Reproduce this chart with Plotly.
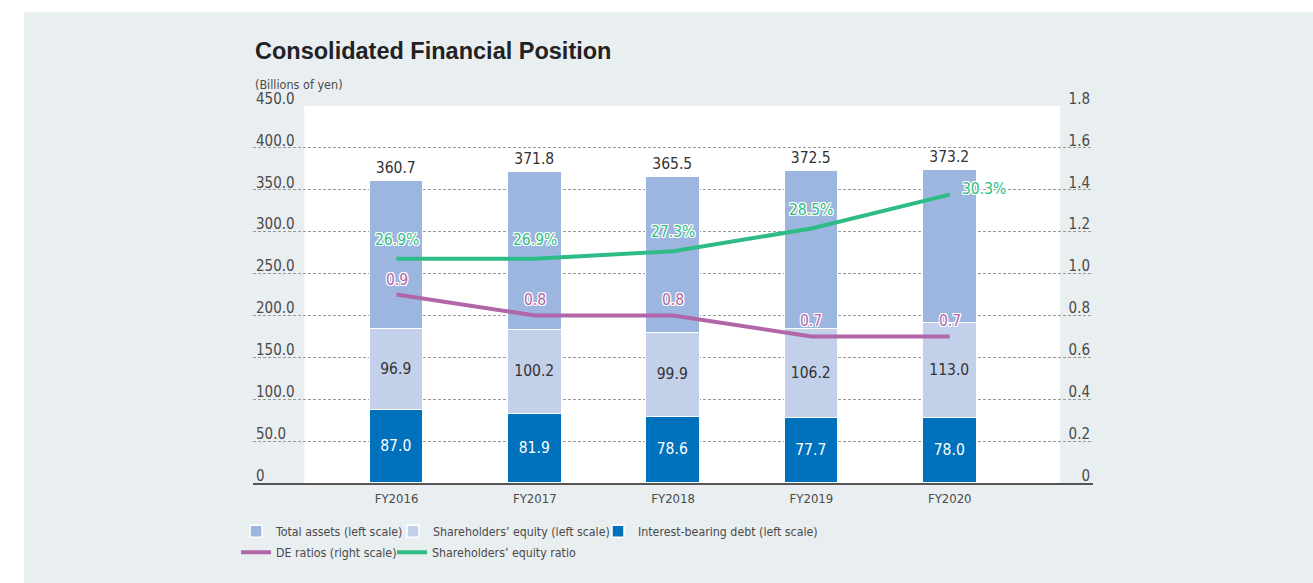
import plotly.graph_objects as go

# ---------------- data ----------------
years = ["FY2016", "FY2017", "FY2018", "FY2019", "FY2020"]
total_assets = [360.7, 371.8, 365.5, 372.5, 373.2]
shareholders_equity = [96.9, 100.2, 99.9, 106.2, 113.0]
interest_bearing_debt = [87.0, 81.9, 78.6, 77.7, 78.0]
de_ratio = [0.9, 0.8, 0.8, 0.7, 0.7]
equity_ratio = [26.9, 26.9, 27.3, 28.5, 30.3]

left_ticks = [0, 50, 100, 150, 200, 250, 300, 350, 400, 450]
left_ticktext = ["0", "50.0", "100.0", "150.0", "200.0", "250.0", "300.0", "350.0", "400.0", "450.0"]
right_ticks = [0, 0.2, 0.4, 0.6, 0.8, 1.0, 1.2, 1.4, 1.6, 1.8]
right_ticktext = ["0", "0.2", "0.4", "0.6", "0.8", "1.0", "1.2", "1.4", "1.6", "1.8"]

# ---------------- style ----------------
NARROW = "DejaVu Sans Condensed, Liberation Sans, Arial, sans-serif"
BOLD = "Liberation Sans, Arial, sans-serif"
BG = "#e9eef1"
C_TOTAL = "#9db6df"
C_EQUITY = "#c2d0ea"
C_DEBT = "#0071bc"
C_DE = "#b066a8"
C_RATIO = "#2ebc86"
TXT = "#4a4a4a"
HALO = ("1px 1px 0 white, -1px -1px 0 white, 1px -1px 0 white, -1px 1px 0 white, "
        "0 1px 0 white, 0 -1px 0 white, 1px 0 0 white, -1px 0 0 white")

remainder = [t - e - d for t, e, d in zip(total_assets, shareholders_equity, interest_bearing_debt)]

fig = go.Figure()

fig.add_trace(go.Bar(
    x=years, y=interest_bearing_debt, name="Interest-bearing debt (left scale)",
    marker=dict(color=C_DEBT, line=dict(color="white", width=1.5)),
    width=0.3876,
    text=[f"{v:.1f}" for v in interest_bearing_debt], textposition="inside",
    insidetextanchor="middle", constraintext="none",
    textfont=dict(family=NARROW, size=15.5, color="white"),
    legend="legend3",
))
fig.add_trace(go.Bar(
    x=years, y=shareholders_equity, name="Shareholders\u2019 equity (left scale)",
    marker=dict(color=C_EQUITY, line=dict(color="white", width=1.5)),
    width=0.3876,
    text=[f"{v:.1f}" for v in shareholders_equity], textposition="inside",
    insidetextanchor="middle", constraintext="none",
    textfont=dict(family=NARROW, size=15.5, color="#333333"),
    legend="legend2",
))
fig.add_trace(go.Bar(
    x=years, y=remainder, name="Total assets (left scale)",
    marker=dict(color=C_TOTAL, line=dict(color="white", width=1.5)),
    width=0.3876,
    text=[f"{v:.1f}" for v in total_assets], textposition="outside",
    constraintext="none", cliponaxis=False,
    textfont=dict(family=NARROW, size=15.5, color="#333333"),
    legend="legend",
))
fig.add_trace(go.Scatter(
    x=years, y=de_ratio, yaxis="y2", mode="lines", name="DE ratios (right scale)",
    line=dict(color=C_DE, width=4), legend="legend4",
))
fig.add_trace(go.Scatter(
    x=years, y=equity_ratio, yaxis="y3", mode="lines", name="Shareholders\u2019 equity ratio",
    line=dict(color=C_RATIO, width=4), legend="legend5",
))

annotations = []
for i, (yr, v) in enumerate(zip(years, equity_ratio)):
    last = i == len(years) - 1
    annotations.append(dict(
        x=yr, y=v, xref="x", yref="y3", text=f"{v:.1f}%", showarrow=False,
        xanchor="left" if last else "center", yanchor="middle",
        xshift=10 if last else 0, yshift=6 if last else 19,
        font=dict(family=NARROW, size=15.5, color=C_RATIO, shadow=HALO),
    ))
for i, (yr, v) in enumerate(zip(years, de_ratio)):
    annotations.append(dict(
        x=yr, y=v, xref="x", yref="y2", text=f"{v:.1f}", showarrow=False,
        xanchor="center", yanchor="middle", yshift=15,
        font=dict(family=NARROW, size=15.5, color=C_DE, shadow=HALO),
    ))
annotations.append(dict(
    x=0, y=1.1465, xref="paper", yref="paper", text="<b>Consolidated Financial Position</b>",
    showarrow=False, xanchor="left", yanchor="middle",
    font=dict(family=BOLD, size=23.5, color="#222222"),
))
annotations.append(dict(
    x=0, y=1.0583, xref="paper", yref="paper", text="(Billions of yen)",
    showarrow=False, xanchor="left", yanchor="middle",
    font=dict(family=NARROW, size=12.5, color=TXT),
))

shapes = [
    dict(type="rect", xref="paper", yref="paper", x0=-0.2726, x1=1.3, y0=-0.3, y1=1.249,
         fillcolor=BG, line=dict(width=0), layer="below"),
    dict(type="rect", xref="x", yref="paper", x0=-0.6667, x1=4.797, y0=0, y1=1,
         fillcolor="white", line=dict(width=0), layer="below"),
]

legend_common = dict(
    orientation="h", yanchor="middle", xanchor="left", bgcolor="rgba(0,0,0,0)",
    font=dict(family=NARROW, size=12.3, color=TXT), borderwidth=0,
)

fig.update_layout(
    width=1313, height=583,
    margin=dict(l=253, r=220, t=106, b=100, autoexpand=False),
    paper_bgcolor="white", plot_bgcolor=BG,
    barmode="stack", bargap=0,
    showlegend=True,
    xaxis=dict(
        type="category", range=[-1.0376, 5.036], showgrid=False, zeroline=False,
        showline=True, linecolor="#555555", linewidth=1.5, ticks="",
        tickfont=dict(family=NARROW, size=13, color=TXT), ticklabelstandoff=3,
        fixedrange=True,
    ),
    yaxis=dict(
        range=[0, 450], tickvals=left_ticks, ticktext=left_ticktext,
        showgrid=True, gridcolor="#9a9a9a", griddash="3px,2px", gridwidth=1,
        zeroline=False, showline=False, ticks="",
        ticklabelposition="inside top", ticklabeloverflow="allow", ticklabelshift=3,
        tickfont=dict(family=NARROW, size=15, color=TXT),
    ),
    yaxis2=dict(
        range=[0, 1.8], overlaying="y", side="right", tickvals=right_ticks, ticktext=right_ticktext,
        showgrid=False, zeroline=False, showline=False, ticks="",
        ticklabelposition="inside top", ticklabeloverflow="allow", ticklabelshift=3,
        tickfont=dict(family=NARROW, size=15, color=TXT),
    ),
    yaxis3=dict(range=[15, 35], overlaying="y", visible=False),
    legend=dict(legend_common, x=-0.0202, y=-0.1277),
    legend2=dict(legend_common, x=0.1667, y=-0.1277),
    legend3=dict(legend_common, x=0.4107, y=-0.1277),
    legend4=dict(legend_common, x=-0.0202, y=-0.184),
    legend5=dict(legend_common, x=0.1655, y=-0.184),
    annotations=annotations,
    shapes=shapes,
)

fig.write_html("out.html", config={"displayModeBar": False},
               post_script="document.body.style.margin='0px';")
